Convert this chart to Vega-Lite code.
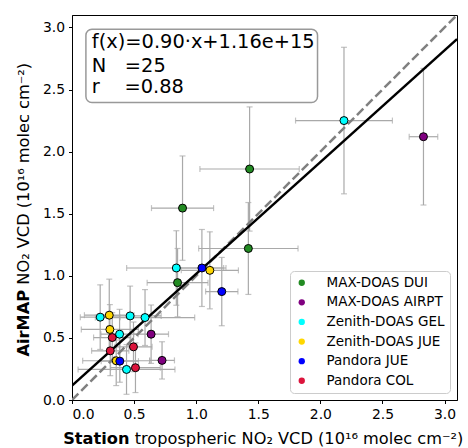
{
  "$schema": "https://vega.github.io/schema/vega-lite/v6.json",
  "width": 385,
  "height": 385,
  "autosize": "none",
  "padding": {"left": 72, "top": 15, "right": 11, "bottom": 48},
  "background": "white",
  "config": {
    "font": "DejaVu Sans",
    "view": {"stroke": "black", "strokeWidth": 1},
    "axis": {
      "labelFont": "DejaVu Sans", "labelFontSize": 13.9, "labelColor": "black",
      "tickColor": "black", "tickSize": 3.5, "domainColor": "black",
      "gridColor": "#b0b0b0", "gridWidth": 0.8,
      "titleFont": "DejaVu Sans", "titleFontSize": 16.2, "titleColor": "black", "titleFontWeight": "normal"
    }
  },
  "datasets": {
    "pts": [
      {"g": "MAX-DOAS DUI", "x": 0.89, "y": 1.545, "xlo": 0.64, "xhi": 1.14, "ylo": 1.125, "yhi": 1.965},
      {"g": "MAX-DOAS DUI", "x": 1.43, "y": 1.86, "xlo": 1.03, "xhi": 1.83, "ylo": 1.36, "yhi": 2.36},
      {"g": "MAX-DOAS DUI", "x": 1.42, "y": 1.22, "xlo": 1.02, "xhi": 1.82, "ylo": 0.85, "yhi": 1.59},
      {"g": "MAX-DOAS DUI", "x": 0.85, "y": 0.945, "xlo": 0.605, "xhi": 1.095, "ylo": 0.67, "yhi": 1.22},
      {"g": "MAX-DOAS AIRPT", "x": 2.83, "y": 2.12, "xlo": 2.715, "xhi": 2.945, "ylo": 1.57, "yhi": 2.67},
      {"g": "MAX-DOAS AIRPT", "x": 0.637, "y": 0.53, "xlo": 0.497, "xhi": 0.777, "ylo": 0.295, "yhi": 0.765},
      {"g": "MAX-DOAS AIRPT", "x": 0.725, "y": 0.319, "xlo": 0.625, "xhi": 0.825, "ylo": 0.169, "yhi": 0.469},
      {"g": "Zenith-DOAS GEL", "x": 2.19, "y": 2.25, "xlo": 1.8, "xhi": 2.58, "ylo": 1.66, "yhi": 2.84},
      {"g": "Zenith-DOAS GEL", "x": 0.84, "y": 1.063, "xlo": 0.44, "xhi": 1.24, "ylo": 0.763, "yhi": 1.363},
      {"g": "Zenith-DOAS GEL", "x": 0.227, "y": 0.667, "xlo": 0.067, "xhi": 0.387, "ylo": 0.407, "yhi": 0.927},
      {"g": "Zenith-DOAS GEL", "x": 0.468, "y": 0.677, "xlo": 0.218, "xhi": 0.718, "ylo": 0.437, "yhi": 0.917},
      {"g": "Zenith-DOAS GEL", "x": 0.588, "y": 0.664, "xlo": 0.188, "xhi": 0.988, "ylo": 0.439, "yhi": 0.889},
      {"g": "Zenith-DOAS GEL", "x": 0.383, "y": 0.53, "xlo": 0.233, "xhi": 0.533, "ylo": 0.33, "yhi": 0.73},
      {"g": "Zenith-DOAS GEL", "x": 0.439, "y": 0.246, "xlo": 0.049, "xhi": 0.829, "ylo": 0.046, "yhi": 0.446},
      {"g": "Zenith-DOAS JUE", "x": 1.11, "y": 1.044, "xlo": 0.88, "xhi": 1.34, "ylo": 0.734, "yhi": 1.354},
      {"g": "Zenith-DOAS JUE", "x": 0.3, "y": 0.683, "xlo": 0.1, "xhi": 0.5, "ylo": 0.393, "yhi": 0.973},
      {"g": "Zenith-DOAS JUE", "x": 0.305, "y": 0.568, "xlo": 0.075, "xhi": 0.535, "ylo": 0.368, "yhi": 0.768},
      {"g": "Zenith-DOAS JUE", "x": 0.356, "y": 0.316, "xlo": 0.086, "xhi": 0.626, "ylo": 0.116, "yhi": 0.516},
      {"g": "Pandora JUE", "x": 1.046, "y": 1.063, "xlo": 0.871, "xhi": 1.221, "ylo": 0.753, "yhi": 1.373},
      {"g": "Pandora JUE", "x": 1.206, "y": 0.873, "xlo": 1.076, "xhi": 1.336, "ylo": 0.598, "yhi": 1.148},
      {"g": "Pandora JUE", "x": 0.385, "y": 0.313, "xlo": 0.235, "xhi": 0.535, "ylo": 0.143, "yhi": 0.483},
      {"g": "Pandora COL", "x": 0.324, "y": 0.503, "xlo": 0.174, "xhi": 0.474, "ylo": 0.303, "yhi": 0.703},
      {"g": "Pandora COL", "x": 0.495, "y": 0.428, "xlo": 0.345, "xhi": 0.645, "ylo": 0.228, "yhi": 0.628},
      {"g": "Pandora COL", "x": 0.308, "y": 0.396, "xlo": 0.158, "xhi": 0.458, "ylo": 0.196, "yhi": 0.596},
      {"g": "Pandora COL", "x": 0.511, "y": 0.26, "xlo": 0.311, "xhi": 0.711, "ylo": 0.06, "yhi": 0.46}
    ],
    "oneone": [{"x": 0, "y": 0}, {"x": 3.1, "y": 3.1}],
    "fit": [{"x": 0, "y": 0.116}, {"x": 3.1, "y": 2.906}],
    "box": [{"x1": 0.112, "x2": 1.977, "y1": 2.396, "y2": 2.985}],
    "txt": [
      {"tx": 0.16, "ty": 2.833, "label": "f(x)=0.90·x+1.16e+15"},
      {"tx": 0.16, "ty": 2.645, "label": "N\u00a0\u00a0\u00a0=25"},
      {"tx": 0.16, "ty": 2.474, "label": "r\u00a0\u00a0\u00a0\u00a0=0.88"}
    ]
  },
  "layer": [
    {
      "data": {"name": "pts"},
      "mark": {"type": "errorbar", "ticks": {"size": 6, "color": "#a9a9a9", "thickness": 1.2}, "color": "#a9a9a9", "thickness": 1.2},
      "encoding": {
        "x": {"field": "xlo", "type": "quantitative", "scale": {"domain": [0, 3.1], "nice": false, "zero": false}, "axis": null},
        "x2": {"field": "xhi"},
        "y": {"field": "y", "type": "quantitative", "scale": {"domain": [0, 3.1], "nice": false, "zero": false}, "axis": null}
      }
    },
    {
      "data": {"name": "pts"},
      "mark": {"type": "errorbar", "ticks": {"size": 6, "color": "#a9a9a9", "thickness": 1.2}, "color": "#a9a9a9", "thickness": 1.2},
      "encoding": {
        "y": {"field": "ylo", "type": "quantitative", "axis": null},
        "y2": {"field": "yhi"},
        "x": {"field": "x", "type": "quantitative", "axis": null}
      }
    },
    {
      "data": {"name": "oneone"},
      "mark": {"type": "line", "color": "#808080", "strokeWidth": 2.5, "strokeDash": [9, 4], "clip": true},
      "encoding": {
        "x": {"field": "x", "type": "quantitative", "axis": null},
        "y": {"field": "y", "type": "quantitative", "axis": null}
      }
    },
    {
      "data": {"name": "fit"},
      "mark": {"type": "line", "color": "black", "strokeWidth": 2.5, "clip": true},
      "encoding": {
        "x": {"field": "x", "type": "quantitative", "axis": {"orient": "bottom", "title": "Station", "titleFontWeight": "bold", "labels": false, "ticks": false, "domain": false, "grid": false, "titleX": -9.3, "titleY": 43.3, "titleAlign": "left", "titleBaseline": "alphabetic", "titleAnchor": null}},
        "y": {"field": "y", "type": "quantitative", "axis": {"orient": "left", "title": "AirMAP", "titleFontWeight": "bold", "labels": false, "ticks": false, "domain": false, "grid": false, "titleAngle": -90, "titleX": -44, "titleY": 341, "titleAlign": "left", "titleBaseline": "alphabetic", "titleAnchor": null}}
      }
    },
    {
      "data": {"name": "pts"},
      "mark": {"type": "point", "shape": "circle", "filled": true, "size": 64, "stroke": "black", "strokeWidth": 1, "opacity": 1},
      "encoding": {
        "x": {"field": "x", "type": "quantitative", "axis": {"orient": "bottom", "values": [0, 0.5, 1, 1.5, 2, 2.5, 3], "format": ".1f", "labelPadding": 4, "title": "tropospheric NO₂ VCD (10¹⁶ molec cm⁻²)", "titleX": 62.2, "titleY": 43.3, "titleAlign": "left", "titleBaseline": "alphabetic", "titleAnchor": null}},
        "y": {"field": "y", "type": "quantitative", "axis": {"orient": "left", "values": [0, 0.5, 1, 1.5, 2, 2.5, 3], "format": ".1f", "labelPadding": 4, "title": "NO₂ VCD (10¹⁶ molec cm⁻²)", "titleAngle": -90, "titleX": -44, "titleY": 269.2, "titleAlign": "left", "titleBaseline": "alphabetic", "titleAnchor": null}},
        "color": {
          "field": "g", "type": "nominal",
          "scale": {
            "domain": ["MAX-DOAS DUI", "MAX-DOAS AIRPT", "Zenith-DOAS GEL", "Zenith-DOAS JUE", "Pandora JUE", "Pandora COL"],
            "range": ["#228B22", "#800080", "#00FFFF", "#FFD700", "#0000FF", "#DC143C"]
          },
          "legend": {
            "title": null, "orient": "bottom-right", "offset": 7,
            "fillColor": "rgba(255,255,255,0.8)", "strokeColor": "#cccccc", "cornerRadius": 4,
            "padding": 5, "symbolSize": 40, "symbolType": "circle", "symbolStrokeWidth": 0,
            "labelFont": "DejaVu Sans", "labelFontSize": 13.5, "labelColor": "black", "labelOffset": 18, "rowPadding": 4.6
          }
        }
      }
    },
    {
      "data": {"name": "box"},
      "mark": {"type": "rect", "fill": "white", "fillOpacity": 0.8, "stroke": "#999999", "strokeWidth": 1.5, "cornerRadius": 6},
      "encoding": {
        "x": {"field": "x1", "type": "quantitative", "axis": null},
        "x2": {"field": "x2"},
        "y": {"field": "y1", "type": "quantitative", "axis": null},
        "y2": {"field": "y2"}
      }
    },
    {
      "data": {"name": "txt"},
      "mark": {"type": "text", "align": "left", "baseline": "alphabetic", "font": "DejaVu Sans", "fontSize": 19.4, "color": "black"},
      "encoding": {
        "x": {"field": "tx", "type": "quantitative", "axis": null},
        "y": {"field": "ty", "type": "quantitative", "axis": null},
        "text": {"field": "label"}
      }
    }
  ],
  "resolve": {"axis": {"x": "independent", "y": "independent"}}
}
